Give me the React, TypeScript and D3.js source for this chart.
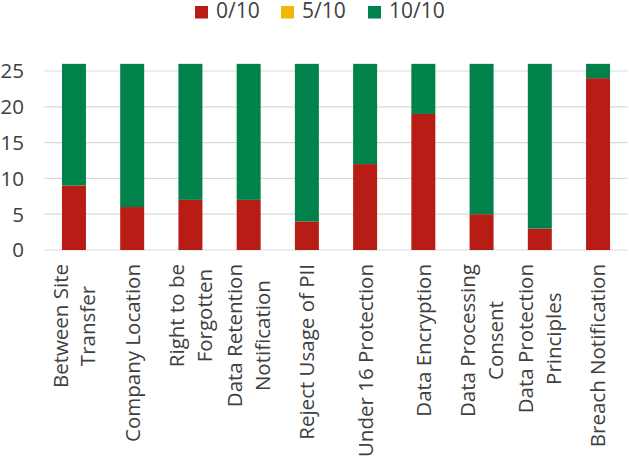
import React, { useEffect, useRef } from "react";
import * as d3 from "d3";

const categories = [
  "Between Site|Transfer",
  "Company Location",
  "Right to be|Forgotten",
  "Data Retention|Notification",
  "Reject Usage of PII",
  "Under 16 Protection",
  "Data Encryption",
  "Data Processing|Consent",
  "Data Protection|Principles",
  "Breach Notification",
];
const seriesNames = ["0/10", "5/10", "10/10"];
const zeroOfTen = [9, 6, 7, 7, 4, 12, 19, 5, 3, 24];
const fiveOfTen = [0, 0, 0, 0, 0, 0, 0, 0, 0, 0];
const tenOfTen = [17, 20, 19, 19, 22, 14, 7, 21, 23, 2];
const yTicks = [0, 5, 10, 15, 20, 25];

const colors = ["#B81D15", "#F2B705", "#00824A"];
const FONT = "'Open Sans', sans-serif";
const TEXT = "#404040";

export default function App() {
  const ref = useRef<SVGSVGElement | null>(null);

  useEffect(() => {
    const svg = d3.select(ref.current);
    svg.selectAll("*").remove();

    const x = d3
      .scaleBand<string>()
      .domain(categories)
      .range([44.5, 627.5])
      .paddingInner(0.588)
      .paddingOuter(0.3);
    const y = d3.scaleLinear().domain([0, 25]).range([250, 71]);

    // gridlines
    svg
      .append("g")
      .selectAll("line")
      .data(yTicks)
      .join("line")
      .attr("x1", 44.5)
      .attr("x2", 627.5)
      .attr("y1", (d) => y(d))
      .attr("y2", (d) => y(d))
      .attr("stroke", "#D9D9D9")
      .attr("stroke-width", 1.2);

    // y tick labels
    svg
      .append("g")
      .selectAll("text")
      .data(yTicks)
      .join("text")
      .attr("x", 24)
      .attr("y", (d) => y(d))
      .attr("dy", "0.36em")
      .attr("text-anchor", "end")
      .attr("font-family", FONT)
      .attr("font-size", 20.5)
      .attr("fill", TEXT)
      .text((d) => String(d));

    // stacked bars
    const rows = categories.map((c, i) => ({
      cat: c,
      "0/10": zeroOfTen[i],
      "5/10": fiveOfTen[i],
      "10/10": tenOfTen[i],
    }));
    const stack = d3.stack<any>().keys(seriesNames)(rows);
    svg
      .append("g")
      .selectAll("g")
      .data(stack)
      .join("g")
      .attr("fill", (_d, i) => colors[i])
      .selectAll("rect")
      .data((d) => d.filter((p) => p[1] - p[0] > 0))
      .join("rect")
      .attr("x", (d: any) => x(d.data.cat) as number)
      .attr("width", x.bandwidth())
      .attr("y", (d) => y(d[1]))
      .attr("height", (d) => y(d[0]) - y(d[1]));

    // x labels
    const lineH = 27.5;
    const top = 264;
    const lg = svg.append("g");
    categories.forEach((c) => {
      const lines = c.split("|");
      const cx = (x(c) as number) + x.bandwidth() / 2;
      const g = lg.append("g").attr("transform", `translate(${cx},0) rotate(-90)`);
      const texts = lines.map((ln, i) =>
        g
          .append("text")
          .attr("font-family", FONT)
          .attr("font-size", 20.5)
          .attr("fill", TEXT)
          .attr("text-anchor", "middle")
          .attr("y", (i - (lines.length - 1) / 2) * lineH)
          .attr("dy", "0.36em")
          .text(ln)
      );
      const maxW = d3.max(texts, (t) => (t.node() as SVGTextElement).getComputedTextLength()) || 0;
      texts.forEach((t) => t.attr("x", -(top + maxW / 2)));
    });

    // legend
    const legX = [195, 281, 368];
    const leg = svg.append("g");
    seriesNames.forEach((s, i) => {
      leg
        .append("rect")
        .attr("x", legX[i])
        .attr("y", 6)
        .attr("width", 13)
        .attr("height", 12.5)
        .attr("fill", colors[i]);
      leg
        .append("text")
        .attr("x", legX[i] + 21)
        .attr("y", 18)
        .attr("font-family", FONT)
        .attr("font-size", 21)
        .attr("fill", TEXT)
        .text(s);
    });
  }, []);

  return (
    <svg
      ref={ref}
      width={629}
      height={458}
      style={{ position: "absolute", left: 0, top: 0, background: "#fff" }}
    />
  );
}
